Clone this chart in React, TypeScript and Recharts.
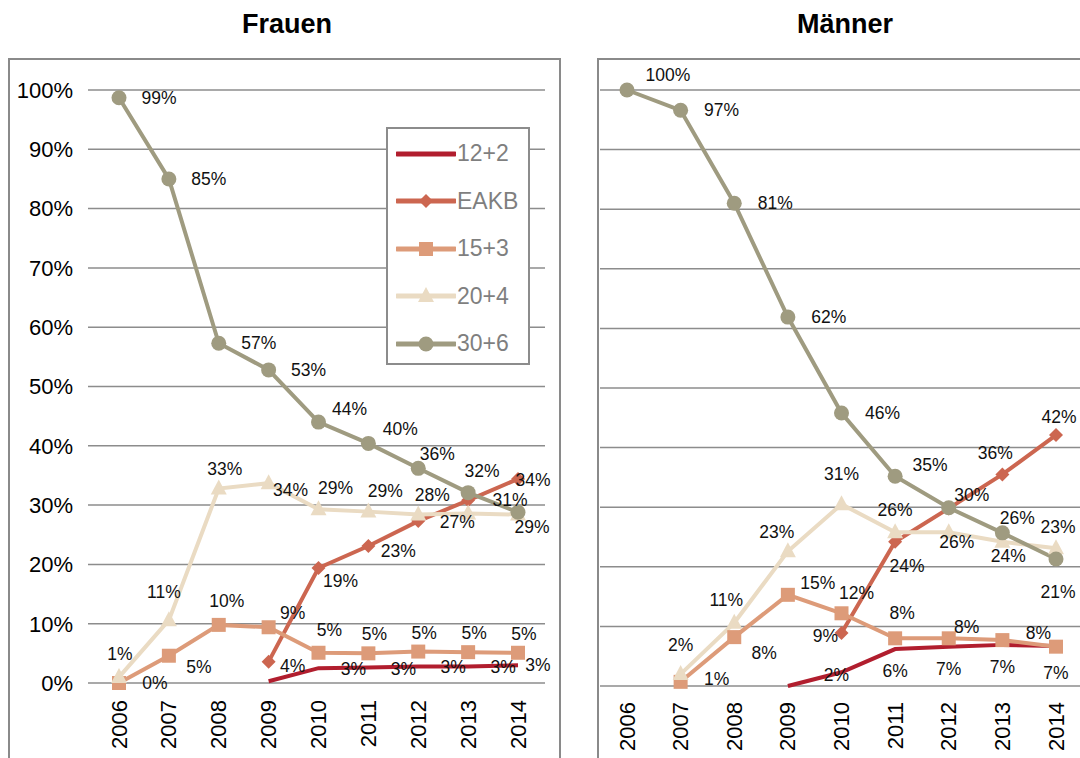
import { LineChart, Line, XAxis, YAxis, CartesianGrid, Legend, LabelList } from "recharts";

const years = ["2006", "2007", "2008", "2009", "2010", "2011", "2012", "2013", "2014"];
const percentTicks = [0, 10, 20, 30, 40, 50, 60, 70, 80, 90, 100];

// Frauen
const frauen12_2 = [null, null, null, 0.3, 2.5, 2.6, 2.8, 2.8, 3.0];
const frauenEAKB = [null, null, null, 3.6, 19.4, 23.1, 27.3, 30.8, 34.4];
const frauen15_3 = [0, 4.6, 9.8, 9.4, 5.1, 5.0, 5.3, 5.2, 5.1];
const frauen20_4 = [1.0, 10.6, 32.8, 33.7, 29.3, 28.9, 28.4, 28.6, 28.4];
const frauen30_6 = [98.7, 85.0, 57.3, 52.8, 44.0, 40.4, 36.2, 32.1, 28.8];

// Männer
const maenner12_2 = [null, null, null, 0, 2.3, 6.2, 6.6, 6.9, 6.7];
const maennerEAKB = [null, null, null, null, 8.9, 24.2, 29.8, 35.5, 42.1];
const maenner15_3 = [null, 0.7, 8.2, 15.3, 12.2, 8.0, 8.0, 7.7, 6.6];
const maenner20_4 = [null, 2.0, 10.6, 22.6, 30.5, 25.8, 25.8, 24.2, 23.1];
const maenner30_6 = [100, 96.6, 81.0, 61.9, 45.8, 35.2, 29.9, 25.7, 21.3];

const FONT = "'Liberation Sans', Arial, sans-serif";

const series = [
  { key: "k12", name: "12+2", color: "#b11e2e", shape: "none" },
  { key: "eakb", name: "EAKB", color: "#cc6650", shape: "diamond" },
  { key: "k15", name: "15+3", color: "#dd9b79", shape: "square" },
  { key: "k20", name: "20+4", color: "#eadbc3", shape: "triangle" },
  { key: "k30", name: "30+6", color: "#9f9b80", shape: "circle" },
];

const buildRows = (cols: (number | null)[][]) =>
  years.map((year, i) => ({
    year,
    k12: cols[0][i],
    eakb: cols[1][i],
    k15: cols[2][i],
    k20: cols[3][i],
    k30: cols[4][i],
  }));

const frauenRows = buildRows([frauen12_2, frauenEAKB, frauen15_3, frauen20_4, frauen30_6]);
const maennerRows = buildRows([maenner12_2, maennerEAKB, maenner15_3, maenner20_4, maenner30_6]);

type Nudge = [number, number] | null;
type LabelPlacement = Record<string, { base: [number, number]; by?: Record<string, Nudge> }>;

// data label placement (dx, dy from the point), null = label not shown
const frauenLabels: LabelPlacement = {
  k12: { base: [35, 1], by: { "2009": null, "2014": [20, 0] } },
  eakb: { base: [30, 5], by: { "2009": [24, 4], "2010": [22, 13], "2012": [39, 1], "2013": [42, 0], "2014": [15, 1] } },
  k15: { base: [6, -19], by: { "2006": [36, 0], "2007": [30, 11], "2008": [8, -24], "2009": [24, -14], "2010": [11, -23] } },
  k20: { base: [17, -21], by: { "2006": [1, -23], "2007": [-5, -28], "2008": [6, -19], "2009": [22, 7], "2012": [14, -20], "2013": null, "2014": null } },
  k30: { base: [40, 0], by: { "2010": [31, -13], "2011": [32, -14], "2012": [19, -14], "2013": [14, -22], "2014": [14, 15] } },
};
const maennerLabels: LabelPlacement = {
  k12: { base: [0, 22], by: { "2009": null, "2010": [-5, 3], "2014": [0, 27] } },
  eakb: { base: [0, -20], by: { "2010": [-16, 3], "2011": [12, 24], "2012": null, "2013": [-7, -21], "2014": [3, -18] } },
  k15: { base: [18, -14], by: { "2007": [36, -3], "2008": [30, 16], "2009": [30, -12], "2010": [15, -20], "2011": [7, -25], "2012": [18, -11], "2013": [36, -7], "2014": null } },
  k20: { base: [0, -22], by: { "2007": [0, -29], "2008": [-8, -23], "2009": [-11, -19], "2010": [0, -30], "2012": [8, 10], "2013": [6, 14], "2014": [2, -21] } },
  k30: { base: [41, 0], by: { "2006": [41, -15], "2011": [35, -11], "2012": [23, -13], "2013": [15, -15], "2014": [2, 33] } },
};

function Marker({ cx, cy, shape, color }: any) {
  if (shape === "diamond")
    return <polygon points={`${cx},${cy - 7} ${cx + 7},${cy} ${cx},${cy + 7} ${cx - 7},${cy}`} fill={color} />;
  if (shape === "square") return <rect x={cx - 7} y={cy - 7} width={14} height={14} fill={color} />;
  if (shape === "triangle")
    return <polygon points={`${cx},${cy - 9} ${cx + 8},${cy + 6} ${cx - 8},${cy + 6}`} fill={color} />;
  if (shape === "circle") return <circle cx={cx} cy={cy} r={7.5} fill={color} />;
  return null;
}

const renderDot = (s: any) => (p: any) => {
  if (p.value == null || p.cx == null || p.cy == null) return <g key={`${s.key}-${p.index}`} />;
  return (
    <g key={`${s.key}-${p.index}`}>
      <Marker cx={p.cx} cy={p.cy} shape={s.shape} color={s.color} />
    </g>
  );
};

const renderLabel = (place: { base: [number, number]; by?: Record<string, Nudge> }) => (p: any) => {
  const { x, y, value, index } = p;
  if (value == null || x == null || y == null) return null;
  const year = years[index];
  const nudge = place.by && year in place.by ? place.by[year] : place.base;
  if (!nudge) return null;
  return (
    <text
      key={index}
      x={x + nudge[0]}
      y={y + nudge[1]}
      textAnchor="middle"
      dominantBaseline="central"
      fontSize={17.5}
      fontFamily={FONT}
      fill="#111"
    >
      {Math.round(value)}%
    </text>
  );
};

const YearTick = ({ x, y, payload, shift }: any) => (
  <text
    x={x}
    y={y + shift}
    transform={`rotate(-90, ${x}, ${y + shift})`}
    textAnchor="end"
    dominantBaseline="central"
    fontSize={22}
    fontFamily={FONT}
    fill="#000"
  >
    {payload.value}
  </text>
);

function LegendBox() {
  return (
    <div
      style={{
        width: 144,
        height: 238,
        boxSizing: "border-box",
        border: "2px solid #8c8c8c",
        background: "#fff",
        paddingTop: 1,
        paddingLeft: 8,
      }}
    >
      {series.map((s) => (
        <div key={s.key} style={{ height: 47.5, display: "flex", alignItems: "center" }}>
          <svg width={60} height={20} style={{ display: "block" }}>
            <line x1={1} y1={10} x2={59} y2={10} stroke={s.color} strokeWidth={5} strokeLinecap="round" />
            <Marker cx={30} cy={10} shape={s.shape} color={s.color} />
          </svg>
          <span style={{ fontFamily: FONT, fontSize: 23, color: "#7f7f7f", marginLeft: 1 }}>{s.name}</span>
        </div>
      ))}
    </div>
  );
}

function Panel({ rows, labels, width, margin, padding, xAxisHeight, showYAxis, showLegend, tickShift }: any) {
  return (
    <LineChart width={width} height={758} data={rows} margin={margin}>
      <CartesianGrid horizontal vertical={false} stroke="#8c8c8c" strokeWidth={1.5} />
      <XAxis
        dataKey="year"
        padding={padding}
        axisLine={false}
        tickLine={false}
        tickSize={0}
        tickMargin={0}
        height={xAxisHeight}
        interval={0}
        tick={<YearTick shift={tickShift} />}
      />
      <YAxis
        domain={[0, 100]}
        ticks={percentTicks}
        hide={!showYAxis}
        width={showYAxis ? 88 : 0}
        axisLine={false}
        tickLine={false}
        tickSize={0}
        tickMargin={15}
        tickFormatter={(v: number) => `${v}%`}
        tick={{ fontSize: 22, fill: "#000", fontFamily: FONT }}
      />
      {showLegend && (
        <Legend
          layout="vertical"
          align="center"
          verticalAlign="middle"
          wrapperStyle={{ left: 386, top: 127, width: 144, height: 238 }}
          content={() => <LegendBox />}
        />
      )}
      {series.map((s) => (
        <Line
          key={s.key}
          dataKey={s.key}
          name={s.name}
          stroke={s.color}
          strokeWidth={4}
          type="linear"
          dot={renderDot(s)}
          activeDot={false}
          isAnimationActive={false}
        >
          <LabelList dataKey={s.key} content={renderLabel(labels[s.key])} />
        </Line>
      ))}
    </LineChart>
  );
}

const titleStyle: React.CSSProperties = {
  position: "absolute",
  top: 11,
  width: 200,
  textAlign: "center",
  fontWeight: "bold",
  fontSize: 27,
  lineHeight: "27px",
};

const frameStyle: React.CSSProperties = {
  position: "absolute",
  top: 58,
  height: 800,
  boxSizing: "border-box",
  border: "2px solid #8a8a8a",
};

export default function App() {
  return (
    <div
      style={{
        position: "absolute",
        left: 0,
        top: 0,
        width: 1080,
        height: 758,
        overflow: "hidden",
        background: "#fff",
        fontFamily: FONT,
      }}
    >
      <div style={{ ...frameStyle, left: 8, width: 553 }} />
      <div style={{ ...frameStyle, left: 597, width: 600 }} />
      <div style={{ ...titleStyle, left: 187 }}>Frauen</div>
      <div style={{ ...titleStyle, left: 745 }}>Männer</div>
      <div style={{ position: "absolute", left: 0, top: 0 }}>
        <Panel
          rows={frauenRows}
          labels={frauenLabels}
          width={600}
          margin={{ top: 90, right: 55, left: 0, bottom: 0 }}
          padding={{ left: 31, right: 27 }}
          xAxisHeight={75}
          showYAxis
          showLegend
          tickShift={17}
        />
      </div>
      <div style={{ position: "absolute", left: 597, top: 0 }}>
        <Panel
          rows={maennerRows}
          labels={maennerLabels}
          width={520}
          margin={{ top: 90, right: 37, left: 3, bottom: 0 }}
          padding={{ left: 27, right: 24 }}
          xAxisHeight={72}
          showYAxis={false}
          showLegend={false}
          tickShift={16}
        />
      </div>
    </div>
  );
}
